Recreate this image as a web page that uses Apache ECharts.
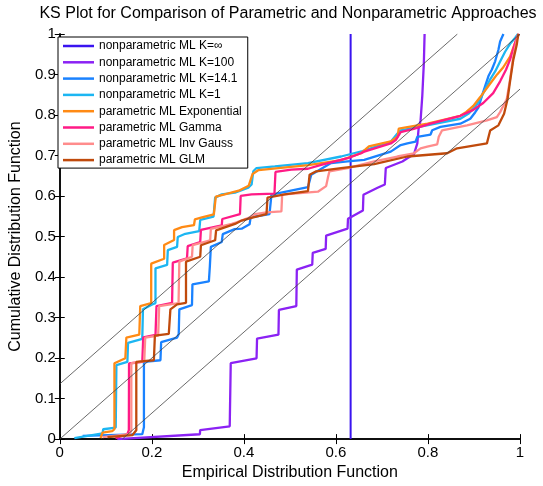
<!DOCTYPE html>
<html>
<head>
<meta charset="utf-8">
<script src="https://cdn.jsdelivr.net/npm/echarts@6/dist/echarts.min.js"></script>
<style>
  html, body { margin: 0; padding: 0; background: #fff; }
  #chart { width: 543px; height: 486px; }
</style>
</head>
<body>
<div id="chart"></div>
<script>
// KS band half-width and axis steps
const ksBand = 0.136;
const xTickStep = 0.2;
const yTickStep = 0.1;

const seriesNames = [
  'nonparametric ML K=\u221e',
  'nonparametric ML K=100',
  'nonparametric ML K=14.1',
  'nonparametric ML K=1',
  'parametric ML Exponential',
  'parametric ML Gamma',
  'parametric ML Inv Gauss',
  'parametric ML GLM',
];
const seriesColors = ['#3a14f0', '#8b22f4', '#1a82ff', '#1cb6f2', '#ff8a14', '#ff1a86', '#ff8c8c', '#c04a0c'];

// [empirical, model CDF] pairs
const kInf = [[0.632, 0], [0.632, 1]];
const k100 = [
  [0.125, 0], [0.3045, 0.012], [0.305, 0.022], [0.3693, 0.0316], [0.3715, 0.1873], [0.4276, 0.1995],
  [0.4287, 0.2482], [0.4752, 0.2579], [0.4762, 0.3187], [0.514, 0.3285], [0.5151, 0.4185], [0.5486, 0.4307],
  [0.5497, 0.4599], [0.5778, 0.4696], [0.5788, 0.5024], [0.6253, 0.5195], [0.6263, 0.5438], [0.6587, 0.5645],
  [0.6598, 0.6034], [0.6905, 0.6204], [0.7063, 0.6285], [0.7084, 0.6691], [0.7445, 0.6854], [0.7553, 0.6934],
  [0.7695, 0.7032], [0.7769, 0.73], [0.7797, 0.7664], [0.784, 0.7866], [0.7877, 0.8474], [0.7911, 0.9287],
  [0.7927, 1.0],
];
const k14 = [
  [0.0497, 0.008], [0.1793, 0.0122], [0.1829, 0.0292], [0.1829, 0.1905], [0.2188, 0.1946], [0.2203, 0.2392],
  [0.2549, 0.2506], [0.2585, 0.2596], [0.2598, 0.3204], [0.2873, 0.3309], [0.2883, 0.382], [0.324, 0.3893],
  [0.3261, 0.4258], [0.3283, 0.4745], [0.352, 0.4866], [0.3542, 0.5061], [0.3801, 0.5182], [0.3952, 0.5195],
  [0.4125, 0.5304], [0.4147, 0.5474], [0.4557, 0.5555], [0.46, 0.6034], [0.5393, 0.6221], [0.5464, 0.6528],
  [0.5896, 0.6813], [0.6257, 0.6854], [0.6616, 0.6893], [0.7192, 0.7097], [0.7408, 0.7258], [0.7553, 0.73],
  [0.7732, 0.7341], [0.7769, 0.7462], [0.8056, 0.7518], [0.8093, 0.7623], [0.8272, 0.7706], [0.8704, 0.7786],
  [0.892, 0.7908], [0.9028, 0.807], [0.9099, 0.8192], [0.9173, 0.8474], [0.9244, 0.8718], [0.9315, 0.8961],
  [0.9389, 0.9124], [0.946, 0.9326], [0.9531, 0.9611], [0.9568, 0.9813], [0.964, 1.0],
];
const k1 = [
  [0.0317, 0.0024], [0.0929, 0.0139], [0.0944, 0.0243], [0.1216, 0.0285], [0.1231, 0.1825], [0.1469, 0.1905],
  [0.1484, 0.2377], [0.1793, 0.2474], [0.1808, 0.3204], [0.2009, 0.3326], [0.208, 0.3358], [0.208, 0.4217],
  [0.2333, 0.4299], [0.2348, 0.4664], [0.2549, 0.4745], [0.2564, 0.4988], [0.2728, 0.5068], [0.303, 0.5134],
  [0.3052, 0.5409], [0.3341, 0.5491], [0.3376, 0.5961], [0.352, 0.6041], [0.3808, 0.6083], [0.4097, 0.6204],
  [0.4168, 0.6285], [0.4205, 0.6611], [0.4276, 0.6691], [0.4672, 0.6732], [0.5393, 0.6813], [0.6112, 0.6976],
  [0.6581, 0.7112], [0.7192, 0.7341], [0.7337, 0.7543], [0.7408, 0.7623], [0.7695, 0.7681], [0.8704, 0.7908],
  [0.8877, 0.8029], [0.9028, 0.82], [0.9136, 0.8394], [0.9244, 0.8637], [0.9352, 0.8881], [0.946, 0.9075],
  [0.9568, 0.9319], [0.9676, 0.9562], [0.9784, 0.9757], [0.9892, 0.9903], [0.9957, 1.0],
];
const expo = [
  [0.0886, 0.0024], [0.0929, 0.0158], [0.114, 0.0195], [0.1188, 0.0243], [0.1188, 0.1873], [0.1425, 0.1995],
  [0.1447, 0.2506], [0.1728, 0.2579], [0.1749, 0.3285], [0.1987, 0.3358], [0.1987, 0.4331], [0.2268, 0.4453],
  [0.2268, 0.4793], [0.2484, 0.4915], [0.2484, 0.5158], [0.2657, 0.5231], [0.2916, 0.528], [0.2937, 0.5426],
  [0.3089, 0.5474], [0.3348, 0.5547], [0.3391, 0.5985], [0.3564, 0.6034], [0.3888, 0.6131], [0.4104, 0.6253],
  [0.419, 0.6545], [0.432, 0.6642], [0.4536, 0.6667], [0.54, 0.6764], [0.6112, 0.6886], [0.6544, 0.7056],
  [0.6717, 0.7226], [0.7192, 0.7348], [0.7343, 0.747], [0.7365, 0.7664], [0.7991, 0.7786], [0.8704, 0.798],
  [0.8834, 0.8078], [0.8985, 0.8224], [0.9136, 0.8443], [0.9309, 0.871], [0.9503, 0.9002], [0.9633, 0.9173],
  [0.9784, 0.944], [0.9892, 0.9781], [0.9978, 1.0],
];
const gamma = [
  [0.121, 0.0024], [0.1469, 0.0122], [0.1501, 0.0219], [0.1505, 0.1866], [0.1793, 0.1905], [0.1814, 0.2513],
  [0.208, 0.2572], [0.2102, 0.3285], [0.2441, 0.3365], [0.2456, 0.4355], [0.2765, 0.446], [0.278, 0.4762],
  [0.3052, 0.4866], [0.3067, 0.5165], [0.352, 0.5273], [0.3531, 0.5433], [0.3916, 0.5555], [0.3931, 0.6002],
  [0.4168, 0.6041], [0.4665, 0.6058], [0.4687, 0.6594], [0.5032, 0.665], [0.5393, 0.6674], [0.568, 0.6771],
  [0.6257, 0.6934], [0.6544, 0.7056], [0.6616, 0.7097], [0.7192, 0.7299], [0.73, 0.738], [0.7408, 0.758],
  [0.769, 0.766], [0.8056, 0.7786], [0.8704, 0.798], [0.8985, 0.8127], [0.9201, 0.8297], [0.9417, 0.854],
  [0.9568, 0.8832], [0.9698, 0.9124], [0.9784, 0.9367], [0.9855, 0.9635], [0.9935, 0.9927], [0.9978, 1.0],
];
const invGauss = [
  [0.0929, 0.0049], [0.1512, 0.0122], [0.1555, 0.0219], [0.1555, 0.1873], [0.1836, 0.1922], [0.1857, 0.2506],
  [0.2138, 0.2555], [0.216, 0.3285], [0.2581, 0.3358], [0.2598, 0.438], [0.2873, 0.4501], [0.2888, 0.4786],
  [0.3268, 0.4908], [0.3283, 0.519], [0.3737, 0.5311], [0.3844, 0.5353], [0.4132, 0.5474], [0.424, 0.5555],
  [0.4492, 0.5596], [0.4816, 0.562], [0.4832, 0.6034], [0.5609, 0.6107], [0.5788, 0.6246], [0.5825, 0.6448],
  [0.586, 0.6611], [0.6257, 0.6691], [0.6832, 0.6854], [0.7337, 0.6976], [0.7695, 0.7056], [0.784, 0.7178],
  [0.7985, 0.7219], [0.8201, 0.7275], [0.8235, 0.7462], [0.8308, 0.7623], [0.8849, 0.7745], [0.9281, 0.7866],
  [0.9497, 0.7949], [0.9568, 0.8071], [0.9713, 0.8394], [0.9784, 0.8881], [0.9855, 0.9448], [0.9929, 0.9854],
  [0.9963, 1.0],
];
const glm = [
  [0.1037, 0.0049], [0.1577, 0.0097], [0.1663, 0.0219], [0.1663, 0.1905], [0.2045, 0.1946], [0.2067, 0.2555],
  [0.2369, 0.2596], [0.2404, 0.3204], [0.2549, 0.3326], [0.2743, 0.3365], [0.2743, 0.438], [0.3052, 0.4501],
  [0.3067, 0.4786], [0.3376, 0.4908], [0.3397, 0.5151], [0.3808, 0.5311], [0.3952, 0.5394], [0.4205, 0.5474],
  [0.4492, 0.5555], [0.4514, 0.5961], [0.4888, 0.6041], [0.5393, 0.6124], [0.5428, 0.6528], [0.5572, 0.6611],
  [0.6112, 0.6691], [0.6832, 0.6788], [0.7553, 0.6976], [0.8417, 0.7056], [0.8633, 0.7178], [0.9281, 0.73],
  [0.9352, 0.7616], [0.9531, 0.7745], [0.9654, 0.8029], [0.973, 0.8394], [0.9784, 0.8832], [0.9855, 0.9367],
  [0.9929, 0.9732], [0.9963, 1.0],
];

const curves = [kInf, k100, k14, k1, expo, gamma, invGauss, glm];

const refLines = [
  [[0, 0], [1, 1]],
  [[0, ksBand], [1 - ksBand, 1]],
  [[ksBand, 0], [1, 1 - ksBand]],
];

const font = 'Liberation Sans, Arial, Helvetica, sans-serif';

const chart = echarts.init(document.getElementById('chart'), null, { renderer: 'canvas' });

const baseAxis = {
  type: 'value',
  min: 0,
  max: 1,
  axisLine: { show: true, lineStyle: { color: '#000', width: 1.5 } },
  axisTick: { show: true, inside: true, length: 5, lineStyle: { color: '#000', width: 1 } },
  splitLine: { show: false },
};

chart.setOption({
  animation: false,
  backgroundColor: '#fff',
  textStyle: { fontFamily: font },
  title: {
    text: 'KS Plot for Comparison of Parametric and Nonparametric Approaches',
    left: 288,
    top: 6,
    padding: 0,
    textAlign: 'center',
    textStyle: { fontFamily: font, fontSize: 16, fontWeight: 'normal', color: '#000' },
  },
  grid: { left: 57, right: 23, top: 34, bottom: 41 },
  legend: {
    data: seriesNames,
    orient: 'vertical',
    left: 58,
    top: 37,
    padding: [3, 6, 2, 5],
    itemGap: 4.3,
    itemWidth: 31,
    itemHeight: 2.5,
    icon: 'rect',
    selectedMode: false,
    borderColor: '#000',
    borderWidth: 1,
    backgroundColor: '#fff',
    textStyle: { fontFamily: font, fontSize: 12, lineHeight: 12, color: '#000' },
  },
  xAxis: [
    {
      ...baseAxis,
      interval: xTickStep,
      name: 'Empirical Distribution Function',
      nameLocation: 'middle',
      nameGap: 22,
      nameTextStyle: { fontFamily: font, fontSize: 16, color: '#000' },
      axisLabel: { margin: 6, fontSize: 15, color: '#000', fontFamily: font },
    },
    { ...baseAxis, interval: xTickStep, position: 'top', axisLabel: { show: false } },
  ],
  yAxis: [
    {
      ...baseAxis,
      interval: yTickStep,
      name: 'Cumulative Distribution Function',
      nameLocation: 'middle',
      nameGap: 32,
      nameTextStyle: { fontFamily: font, fontSize: 16, color: '#000' },
      axisLabel: { margin: 4, fontSize: 15, color: '#000', fontFamily: font },
    },
    { ...baseAxis, interval: yTickStep, position: 'right', axisLabel: { show: false } },
  ],
  series: [
    ...curves.map((data, i) => ({
      name: seriesNames[i],
      type: 'line',
      data,
      symbol: 'none',
      lineStyle: { color: seriesColors[i], width: i === 0 ? 2 : 2.3 },
      itemStyle: { color: seriesColors[i] },
      z: 2 + i,
    })),
    ...refLines.map(data => ({
      type: 'line',
      data,
      symbol: 'none',
      silent: true,
      lineStyle: { color: '#444', width: 0.8 },
      z: 20,
    })),
  ],
});
</script>
</body>
</html>
